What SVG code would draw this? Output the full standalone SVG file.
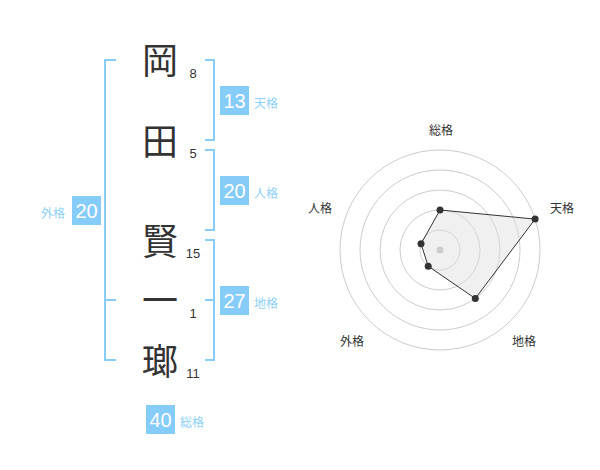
<svg xmlns="http://www.w3.org/2000/svg" width="600" height="470" viewBox="0 0 600 470">
<style>
.ch{font-family:"Noto Sans CJK JP","Noto Sans CJK SC",sans-serif;font-size:36px;fill:#333;text-anchor:middle}
.num{font-family:"Liberation Sans",Arial,sans-serif;font-size:13px;fill:#333;text-anchor:middle}
.br{fill:none;stroke:#88cdf8;stroke-width:2}
.box{fill:#86ccf9}
.bt{font-family:"Liberation Sans",Arial,sans-serif;font-size:20px;fill:#fff;text-anchor:middle}
.lb{font-family:"Noto Sans CJK JP","Noto Sans CJK SC",sans-serif;font-size:12px;fill:#8ed0f8}
.ring{fill:none;stroke:#cccccc;stroke-width:1}
.rl{font-family:"Noto Sans CJK JP","Noto Sans CJK SC",sans-serif;font-size:12px;fill:#333;text-anchor:middle}
.pt{fill:#333}
</style>
<rect width="600" height="470" fill="#fff"/>
<g id="chars">
<g id="c1"><text class="ch" x="160" y="74">岡</text><text class="num" x="193" y="78">8</text></g>
<g id="c2"><text class="ch" x="160" y="155">田</text><text class="num" x="193" y="158">5</text></g>
<g id="c3"><text class="ch" x="160" y="255">賢</text><text class="num" x="193" y="258">15</text></g>
<g id="c4"><text class="ch" x="160" y="314">一</text><text class="num" x="193" y="318">1</text></g>
<g id="c5"><text class="ch" x="160" y="375">瑯</text><text class="num" x="193" y="378">11</text></g>
</g>
<g id="connectors">
<path class="br" d="M116,60 H105 V360 H116 M105,300 H116"/>
<path class="br" d="M205,60 H214 V140 H205"/>
<path class="br" d="M205,150 H214 V230 H205"/>
<path class="br" d="M205,240 H214 V360 H205 M205,300 H214"/>
</g>
<g id="tenkaku"><rect class="box" x="220" y="86" width="29" height="29"/><text class="bt" x="234.5" y="107.5">13</text><text class="lb" x="254" y="108">天格</text></g>
<g id="jinkaku"><rect class="box" x="220" y="176" width="29" height="29"/><text class="bt" x="234.5" y="197.5">20</text><text class="lb" x="254" y="198">人格</text></g>
<g id="chikaku"><rect class="box" x="220" y="286" width="29" height="29"/><text class="bt" x="234.5" y="307.5">27</text><text class="lb" x="254" y="308">地格</text></g>
<g id="gaikaku"><rect class="box" x="72" y="196" width="29" height="29"/><text class="bt" x="86.5" y="217.5">20</text><text class="lb" x="41" y="218">外格</text></g>
<g id="soukaku"><rect class="box" x="146" y="405" width="29" height="29"/><text class="bt" x="160.5" y="426.5">40</text><text class="lb" x="180" y="427">総格</text></g>
<g id="radar">
<circle class="ring" cx="440" cy="250" r="20"/>
<circle class="ring" cx="440" cy="250" r="40"/>
<circle class="ring" cx="440" cy="250" r="60"/>
<circle class="ring" cx="440" cy="250" r="80"/>
<circle class="ring" cx="440" cy="250" r="100"/>
<polygon points="440,210 535.1,219.1 475.3,298.5 428.2,266.2 421,243.8" fill="#dddddd" fill-opacity="0.45" stroke="#333" stroke-width="1"/>
<circle cx="440" cy="250" r="3.5" fill="#cccccc"/>
<circle class="pt" cx="440" cy="210" r="3.5"/>
<circle class="pt" cx="535.1" cy="219.1" r="3.5"/>
<circle class="pt" cx="475.3" cy="298.5" r="3.5"/>
<circle class="pt" cx="428.2" cy="266.2" r="3.5"/>
<circle class="pt" cx="421" cy="243.8" r="3.5"/>
<text class="rl" x="441" y="135">総格</text>
<text class="rl" x="562" y="213">天格</text>
<text class="rl" x="524" y="346">地格</text>
<text class="rl" x="352" y="346">外格</text>
<text class="rl" x="320" y="213">人格</text>
</g>
</svg>
